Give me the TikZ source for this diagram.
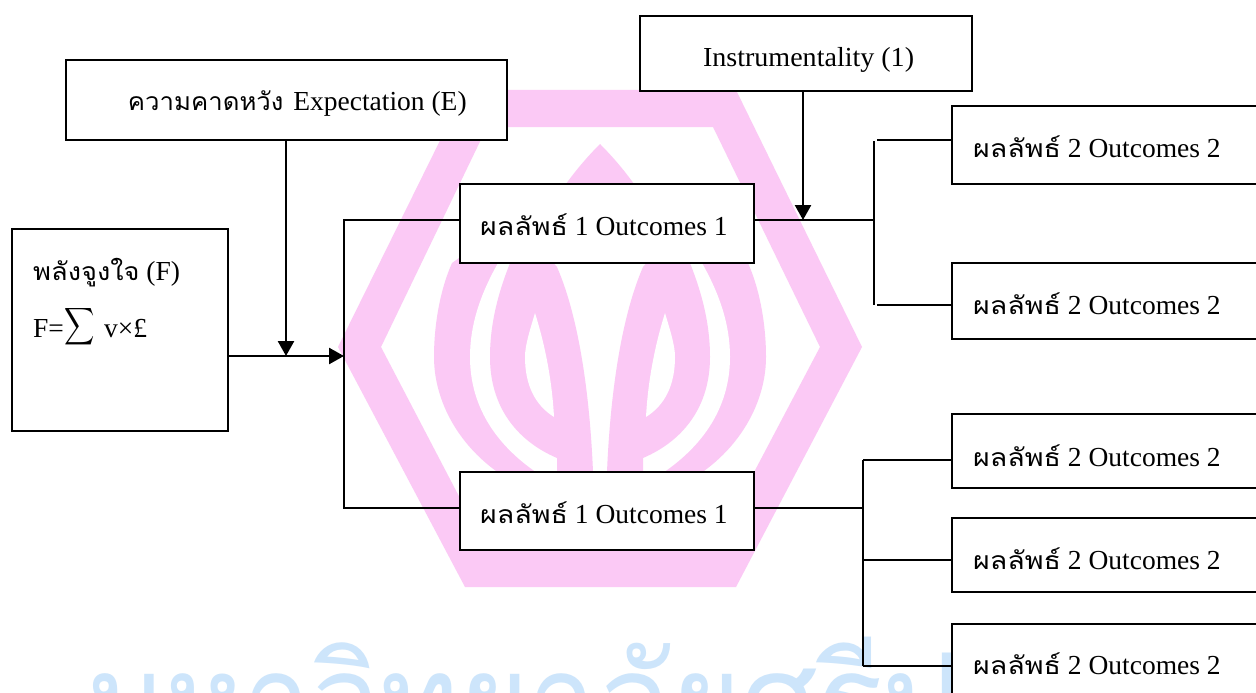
\documentclass[tikz,border=0pt]{standalone}
\usepackage{fontspec}
\usepackage{graphicx}
\usetikzlibrary{arrows.meta}
\setmainfont{Liberation Serif}
\newfontfamily\thaifont[Script=Thai,Scale=0.9]{Loma}
\newfontfamily\markfont[Script=Thai,FakeStretch=0.94]{Loma}
\definecolor{wmpink}{HTML}{FBC9F5}
\definecolor{wmblue}{HTML}{CDE5FB}
\newcommand{\thtxt}[2]{\scalebox{#1}[1]{\thaifont #2}}
\newcommand{\outa}{\thtxt{1.155}{ผลลัพธ์} 1 Outcomes 1}
\newcommand{\outb}{\thtxt{1.155}{ผลลัพธ์} 2 Outcomes 2}
\newcommand{\drop}[2]{\raisebox{-#1}[0pt][0pt]{#2}}
\newcommand{\halfflower}{%
  \fill[wmpink] (600,144) .. controls (588,156) and (576,170) .. (566,184) -- (520,215) -- (452,263) .. controls (440,290) and (434,325) .. (434,357)
     .. controls (434,410) and (470,465) .. (530,490) -- (600,520) -- cycle;
  \fill[white] (600,190) -- (510,240) -- (498,263) .. controls (480,295) and (470,325) .. (470,357)
     .. controls (470,410) and (500,450) .. (545,478) -- (600,500) -- cycle;
  \fill[wmpink] (525,230) .. controls (500,280) and (490,320) .. (490,357)
     .. controls (490,405) and (515,440) .. (557,458) -- (557,490) -- (593,490) -- (593,472)
     .. controls (590,400) and (580,320) .. (557,267) -- cycle;
  \fill[white] (535,313) .. controls (530,330) and (525,345) .. (525,357)
     .. controls (525,385) and (535,405) .. (554,417)
     .. controls (552,380) and (545,345) .. (535,313) -- cycle;
}
\tikzset{
  every node/.style={font=\fontsize{27.5pt}{32pt}\selectfont},
  box/.style={draw=black,line width=1.6pt,fill=white,inner sep=0pt,outer sep=0pt,anchor=north west},
  outbox/.style={box,minimum width=330pt},
  txt/.style={anchor=base west,inner sep=0pt},
  link/.style={draw=black,line width=1.5pt},
  flow/.style={draw=black,line width=2.5pt,-{Triangle[width=16pt,length=15pt]}}
}
\begin{document}
\begin{tikzpicture}[x=1pt,y=-1pt]
\useasboundingbox (0,0) rectangle (1256,693);
\clip (0,0) rectangle (1256,693);
\fill[white] (0,0) rectangle (1256,693);
% watermark hexagon
\fill[wmpink,even odd rule] (465,90) -- (736,90) -- (862,347) -- (736,587) -- (465,587) -- (338,347) -- cycle
  (487,127) -- (713,127) -- (820,347) -- (713,550) -- (487,550) -- (381,347) -- cycle;
\halfflower
\begin{scope}[shift={(1200,0)},xscale=-1]
\halfflower
\end{scope}
\node[txt,text=wmblue,font=\markfont\fontsize{128pt}{128pt}\selectfont] (wm) at (86,745) {มหาวิทยาลัยศรีปทุม};
% boxes
\node[box,minimum width=441pt,minimum height=80pt] (E) at (66,60) {\drop{10pt}{\makebox[441pt][l]{\hspace*{62pt}\thtxt{1.04}{ความคาดหวัง} \hspace{3pt}Expectation (E)}}};
\node[box,minimum width=332pt,minimum height=75pt] (I) at (640,16) {\drop{13pt}{\makebox[332pt][l]{\hspace*{63pt}\scalebox{1.02}[1]{Instrumentality (1)}}}};
\node[box,minimum width=216pt,minimum height=202pt] (F) at (12,229) {};
\node[txt] (F1) at (33,280) {\thtxt{1.10}{พลังจูงใจ} (F)};
\node[txt] (F2) at (33,337) {F=\raisebox{-6pt}{\scalebox{2.1}[2.6]{$\displaystyle\sum$}}\hspace{3pt} v×£};
\node[box,minimum width=294pt,minimum height=79pt] (A1) at (460,184) {\drop{12pt}{\makebox[294pt][l]{\hspace*{20pt}\outa}}};
\node[box,minimum width=294pt,minimum height=78pt] (A2) at (460,472) {\drop{12pt}{\makebox[294pt][l]{\hspace*{20pt}\outa}}};
\node[outbox,minimum height=78pt] (B1) at (952,106) {\drop{13pt}{\makebox[330pt][l]{\hspace*{21pt}\outb}}};
\node[outbox,minimum height=76pt] (B2) at (952,263) {\drop{13pt}{\makebox[330pt][l]{\hspace*{21pt}\outb}}};
\node[outbox,minimum height=74pt] (B3) at (952,414) {\drop{15pt}{\makebox[330pt][l]{\hspace*{21pt}\outb}}};
\node[outbox,minimum height=74pt] (B4) at (952,518) {\drop{14pt}{\makebox[330pt][l]{\hspace*{21pt}\outb}}};
\node[outbox,minimum height=80pt] (B5) at (952,624) {\drop{10pt}{\makebox[330pt][l]{\hspace*{21pt}\outb}}};
% junctions
\coordinate (J) at (344,356);
\coordinate (Je) at (286,356);
\coordinate (Jt) at (344,220);
\coordinate (Jb) at (344,508);
\coordinate (Ri) at (803,220);
\coordinate (Ra) at (874,220);
\coordinate (Ra1) at (874,141);
\coordinate (Ra2) at (874,305);
\coordinate (Rh1) at (877,140);
\coordinate (Rh2) at (877,305);
\coordinate (Rb) at (863,508);
\coordinate (Rb1) at (863,460);
\coordinate (Rb2) at (863,560);
\coordinate (Rb3) at (863,666);
% connectors
\draw[flow] (F.east |- J) -- (J);
\draw[flow] (E.south -| Je) -- (Je);
\draw[flow] (I.south -| Ri) -- (Ri);
\draw[link] (A1.west |- Jt) -- (Jt) -- (Jb) -- (A2.west |- Jb);
\draw[link] (A1.east |- Ra) -- (Ra);
\draw[link] (Ra1) -- (Ra2);
\draw[link] (Rh1) -- (B1.west |- Rh1);
\draw[link] (Rh2) -- (B2.west |- Rh2);
\draw[link] (A2.east |- Rb) -- (Rb);
\draw[link] (Rb1) -- (Rb3);
\draw[link] (Rb1) -- (B3.west |- Rb1);
\draw[link] (Rb2) -- (B4.west |- Rb2);
\draw[link] (Rb3) -- (B5.west |- Rb3);
\end{tikzpicture}
\end{document}
